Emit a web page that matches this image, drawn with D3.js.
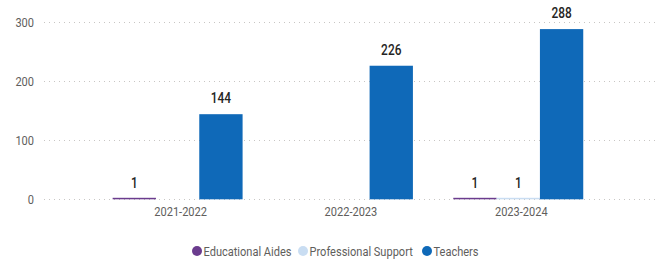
<!DOCTYPE html>
<html><head><meta charset="utf-8">
<script src="https://cdn.jsdelivr.net/npm/d3@7"></script>
<style>
html,body{margin:0;padding:0;background:#fff;}
svg{display:block;}
text{font-family:Roboto,"Noto Sans",sans-serif;}
</style></head>
<body>
<svg id="chart" width="667" height="265"></svg>
<script>
const years = ["2021-2022", "2022-2023", "2023-2024"];
const seriesNames = ["Educational Aides", "Professional Support", "Teachers"];
const educationalAides = [1, null, 1];
const professionalSupport = [null, null, 1];
const teachers = [144, 226, 288];
const yTicks = [0, 100, 200, 300];
const colors = ["#6B3C8E", "#C9DDF2", "#0F69B8"];

const seriesValues = [educationalAides, professionalSupport, teachers];
const svg = d3.select("#chart");
const plotLeft = 44, plotRight = 657, plotTop = 22, plotBottom = 199.3;
const condense = 0.85;

const x0 = d3.scaleBand().domain(years).range([plotLeft, plotRight])
  .paddingInner(0.237).paddingOuter(0.418).align(0.482);
const x1 = d3.scaleBand().domain(seriesNames).range([0, x0.bandwidth()]).padding(0);
const y = d3.scaleLinear().domain([0, 300]).range([plotBottom, plotTop]);

// gridlines
svg.append("g").selectAll("line").data(yTicks).join("line")
  .attr("x1", plotLeft).attr("x2", plotRight)
  .attr("y1", d => Math.round(y(d)) + 0.5).attr("y2", d => Math.round(y(d)) + 0.5)
  .attr("stroke", "#C8C6C4").attr("stroke-width", 1).attr("stroke-dasharray", "1,4");

// y axis
const yAxis = d3.axisLeft(y).tickValues(yTicks).tickSize(0).tickPadding(0);
const gy = svg.append("g").attr("transform", `translate(34,0)`).call(yAxis);
gy.select(".domain").remove();
gy.selectAll("text").attr("font-size", "13px").attr("fill", "#605E5C")
  .style("font-family", "Roboto,sans-serif").attr("transform", `scale(${condense},1)`);

// x axis
const xAxis = d3.axisBottom(x0).tickSize(0).tickPadding(0);
const gx = svg.append("g").attr("transform", `translate(3,${plotBottom + 7})`).call(xAxis);
gx.select(".domain").remove();
gx.selectAll("text").attr("font-size", "13px").attr("fill", "#605E5C")
  .style("font-family", "Roboto,sans-serif").attr("transform", `scale(${condense},1)`);

// bars
const rows = [];
years.forEach((yr, i) => {
  seriesNames.forEach((s, j) => {
    const v = seriesValues[j][i];
    if (v != null) rows.push({yr, s, v, c: colors[j]});
  });
});
const g = svg.append("g");
g.selectAll("rect").data(rows).join("rect")
  .attr("x", d => x0(d.yr) + x1(d.s))
  .attr("width", x1.bandwidth())
  .attr("y", d => Math.min(y(d.v), plotBottom - 1.5))
  .attr("height", d => Math.max(plotBottom - y(d.v), 1.5))
  .attr("fill", d => d.c);

g.selectAll("text").data(rows).join("text")
  .attr("transform", d => `translate(${x0(d.yr) + x1(d.s) + x1.bandwidth() / 2},${y(d.v) - 11}) scale(${condense},1)`)
  .attr("text-anchor", "middle")
  .attr("font-size", "14px").attr("font-weight", "500").attr("fill", "#252423")
  .text(d => d.v);

// legend
const legendX = [197, 303, 427];
const lg = svg.append("g");
seriesNames.forEach((s, j) => {
  lg.append("circle").attr("cx", legendX[j]).attr("cy", 251).attr("r", 5).attr("fill", colors[j]);
  lg.append("text").attr("transform", `translate(${legendX[j] + 6.5},255.5) scale(${condense},1)`)
    .attr("font-size", "13px").attr("fill", "#605E5C").text(s);
});
</script>
</body></html>
